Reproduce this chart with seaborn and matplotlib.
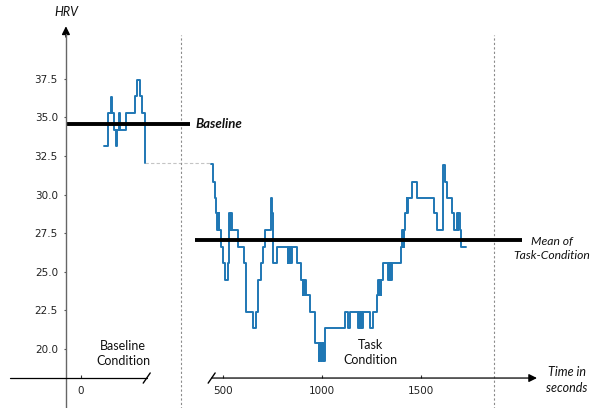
import matplotlib
matplotlib.use("Agg")
import matplotlib.pyplot as plt
import seaborn as sns
import numpy as np
import pandas as pd

# ---------------- data ----------------
baseline_time = [116, 139, 150, 159, 167, 178, 183, 191, 196, 227, 273, 281, 298, 307, 321, 325]
baseline_hrv = [33.15, 35.3, 36.35, 35.3, 34.2, 33.15, 34.2, 35.3, 34.2, 35.3, 36.4, 37.4, 36.4, 35.3, 32.05, 32.05]

task_time = [439, 449, 463, 468, 471, 474, 477, 480, 483, 491, 500, 509, 528, 534, 538, 541, 545,
             576, 609, 618, 655, 668, 680, 693, 702, 711, 744, 750, 756, 773, 828, 832, 836, 841,
             845, 849, 877, 894, 903, 907, 912, 916, 921, 941, 966, 984, 988, 992, 996, 1002, 1007,
             1011, 1014, 1118, 1135, 1145, 1185, 1188, 1193, 1198, 1204, 1209, 1244, 1258, 1277,
             1286, 1289, 1293, 1297, 1301, 1311, 1335, 1339, 1343, 1347, 1351, 1355, 1400, 1404,
             1408, 1411, 1415, 1418, 1421, 1429, 1433, 1437, 1455, 1480, 1569, 1581, 1614, 1623,
             1635, 1660, 1668, 1682, 1686, 1690, 1696, 1702, 1731]
task_hrv = [31.95, 30.84, 29.76, 28.8, 27.7, 28.8, 27.7, 28.8, 27.7, 26.6, 25.55, 24.47, 25.55, 28.8,
            27.7, 28.8, 27.7, 26.6, 25.55, 22.4, 21.34, 22.4, 24.47, 25.55, 26.6, 27.7, 29.76, 28.8,
            25.55, 26.6, 25.55, 26.6, 25.55, 26.6, 25.55, 26.6, 25.55, 24.47, 23.5, 24.47, 23.5,
            24.47, 23.5, 22.4, 20.37, 19.2, 20.37, 19.2, 20.37, 19.2, 20.37, 19.2, 21.34, 22.4,
            21.34, 22.4, 21.34, 22.4, 21.34, 22.4, 21.34, 22.4, 21.34, 22.4, 23.5, 24.47, 23.5,
            24.47, 23.5, 24.47, 25.55, 24.47, 25.55, 24.47, 25.55, 24.47, 25.55, 26.6, 27.7, 26.6,
            27.7, 26.6, 27.7, 28.8, 29.76, 28.8, 29.76, 30.84, 29.76, 28.8, 27.7, 31.9, 30.84,
            29.76, 28.8, 27.7, 28.8, 27.7, 28.8, 27.7, 26.6, 26.6]

baseline_level = 34.6
task_mean_level = 27.05

y_ticks = [20.0, 22.5, 25.0, 27.5, 30.0, 32.5, 35.0, 37.5]
x_tick_values = [0, 500, 1000, 1500]

# ---------------- layout ----------------
SHIFT = 216          # axis break: task segment drawn shifted right
X_AXIS_Y = 18.12     # y value where the x axis is drawn
Y_AXIS_X = -76       # x value where the y axis is drawn
TEXT_FONT = ["Lato", "DejaVu Sans"]
TXT = "#111111"

sns.set_theme(style="white")
plt.rcParams["font.family"] = ["DejaVu Sans"]

fig = plt.figure(figsize=(5.91, 4.08), dpi=100)
ax = fig.add_axes([0, 0, 1, 1])
ax.set_xlim(-409, 2576)
ax.set_ylim(16.18, 42.6)

base_df = pd.DataFrame({"t": baseline_time, "hrv": baseline_hrv})
task_df = pd.DataFrame({"t": np.array(task_time) + SHIFT, "hrv": task_hrv})

blue = "#1f77b4"
sns.lineplot(data=base_df, x="t", y="hrv", ax=ax, color=blue, lw=1.4,
             drawstyle="steps-post", estimator=None, sort=False, zorder=2)
sns.lineplot(data=task_df, x="t", y="hrv", ax=ax, color=blue, lw=1.4,
             drawstyle="steps-post", estimator=None, sort=False, zorder=2)
ax.set_xlabel("")
ax.set_ylabel("")

# connector between baseline end and task start
ax.plot([baseline_time[-1], task_time[0] + SHIFT], [baseline_hrv[-1]] * 2,
        color="#c4c4c4", lw=0.8, ls=(0, (3, 2)), zorder=1)

# horizontal reference lines
ax.plot([Y_AXIS_X, 550], [baseline_level] * 2, color="black", lw=2.8,
        solid_capstyle="butt", zorder=3)
ax.plot([576, 2227], [task_mean_level] * 2, color="black", lw=2.8,
        solid_capstyle="butt", zorder=3)

# vertical dotted separators
for xv in (505, 2086):
    ax.plot([xv, xv], [15.0, 40.34], color="#8a8a8a", lw=0.8, ls=(0, (2, 2)), zorder=1)

# spines / axes
for s in ax.spines.values():
    s.set_visible(False)
ax.spines["left"].set_position(("data", Y_AXIS_X))
ax.spines["bottom"].set_position(("data", X_AXIS_Y))

ax.plot([Y_AXIS_X, Y_AXIS_X], [15.5, 40.4], color="#666666", lw=1.0, zorder=4,
        clip_on=False)
ax.annotate("", xy=(Y_AXIS_X, 40.9), xytext=(Y_AXIS_X, 40.2),
            arrowprops=dict(arrowstyle="-|>", color="black", lw=1.0,
                            shrinkA=0, shrinkB=0, mutation_scale=12))

ax.plot([-359, 332], [X_AXIS_Y] * 2, color="black", lw=0.9, zorder=4)
ax.annotate("", xy=(2303, X_AXIS_Y), xytext=(660, X_AXIS_Y),
            arrowprops=dict(arrowstyle="-|>", color="black", lw=0.9,
                            shrinkA=0, shrinkB=0, mutation_scale=12))
for cx in (332, 660):
    ax.plot([cx - 17.7, cx + 17.7], [X_AXIS_Y - 0.33, X_AXIS_Y + 0.33],
            color="black", lw=1.0, zorder=4)

ax.set_yticks(y_ticks)
ax.set_yticklabels([f"{v:.1f}" for v in y_ticks])
ax.set_xticks([v if v == 0 else v + SHIFT for v in x_tick_values])
ax.set_xticklabels([str(v) for v in x_tick_values])
ax.tick_params(axis="y", left=True, direction="out", length=1.8, width=0.8,
               color="#555555", pad=4, labelsize=7.5, labelcolor="#222222")
ax.tick_params(axis="x", bottom=True, direction="in", length=2, width=0.8,
               color="#333333", pad=6, labelsize=7.5, labelcolor="#222222")
ax.grid(False)

# texts
ax.text(Y_AXIS_X, 41.8, "HRV", ha="center", va="center", fontsize=9,
        style="italic", family=TEXT_FONT, color=TXT)
ax.text(576, 34.57, "Baseline", ha="left", va="center", fontsize=9.5,
        style="italic", weight="bold", family=TEXT_FONT, color=TXT)
ax.text(2379, 26.5, "Mean of\nTask-Condition", ha="center", va="center",
        multialignment="center", fontsize=8.7, style="italic", family=TEXT_FONT,
        linespacing=1.3, color=TXT)
ax.text(2455, 17.98, "Time in\nseconds", ha="center", va="center",
        multialignment="center", fontsize=9, style="italic", family=TEXT_FONT,
        linespacing=1.35, color=TXT)
ax.text(212, 19.74, "Baseline\nCondition", ha="center", va="center",
        multialignment="center", fontsize=9, family=TEXT_FONT, linespacing=1.3,
        color=TXT)
ax.text(1460, 19.79, "Task\nCondition", ha="center", va="center",
        multialignment="center", fontsize=9, family=TEXT_FONT, linespacing=1.3,
        color=TXT)

fig.savefig("out.png", dpi=100)
